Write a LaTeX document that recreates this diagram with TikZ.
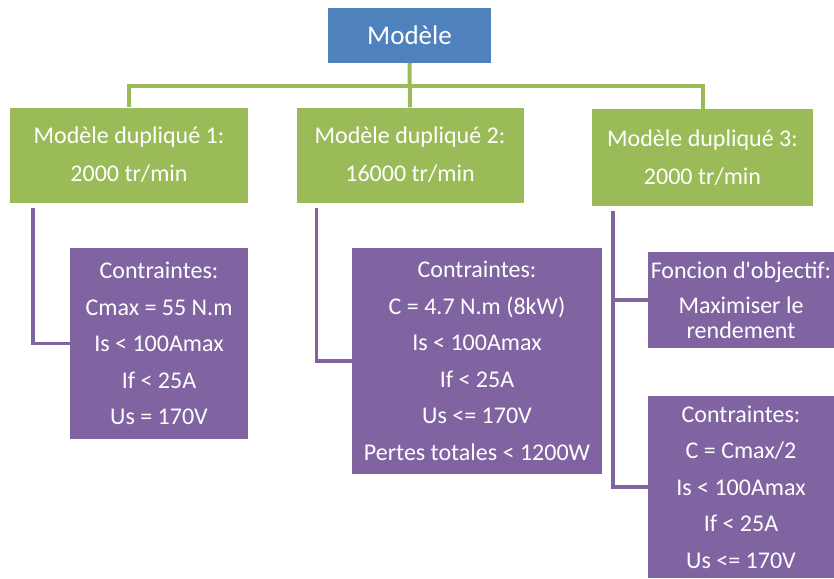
\documentclass[tikz,border=0pt]{standalone}
\usepackage{fontspec}
\setmainfont{Carlito}
\usetikzlibrary{calc}
\definecolor{modblue}{HTML}{4F81BD}
\definecolor{modgreen}{HTML}{9BBB59}
\definecolor{modpurple}{HTML}{8064A2}

\begin{document}
\begin{tikzpicture}[x=1pt,y=-1pt,
    box/.style={inner sep=0pt,text=white,align=center},
    bluebox/.style={box,fill=modblue,font=\fontsize{27}{32}\selectfont},
    greenbox/.style={box,fill=modgreen,minimum height=95pt,font=\fontsize{24}{38}\selectfont},
    purplebox/.style={box,fill=modpurple,font=\fontsize{24}{36.5}\selectfont},
    gline/.style={draw=modgreen,line width=4pt},
    pline/.style={draw=modpurple,line width=3.5pt,shorten <=5pt}]
  % Frame
  \useasboundingbox (0,0) rectangle (834,578);

  % Top box
  \node[bluebox,minimum width=163pt,minimum height=55pt] (mod) at (409.5,35.5) {Modèle};

  % Duplicated models
  \node[greenbox,minimum width=238pt] (g1) at (129,155) {Modèle dupliqué 1:\\2000 tr/min};
  \node[greenbox,minimum width=227pt] (g2) at (410,155) {Modèle dupliqué 2:\\16000 tr/min};
  \node[greenbox,minimum width=221pt,minimum height=97pt] (g3) at (702.5,157.5) {Modèle dupliqué 3:\\2000 tr/min};

  % Constraints & objective
  \node[purplebox,minimum width=178pt,minimum height=191pt] (p1) at (159,343.5)
    {Contraintes:\\Cmax = 55 N.m\\Is < 100Amax\\If < 25A\\Us = 170V};
  \node[purplebox,minimum width=250pt,minimum height=226pt] (p2) at (477,361)
    {Contraintes:\\C = 4.7 N.m (8kW)\\Is < 100Amax\\If < 25A\\Us <= 170V\\Pertes totales < 1200W};
  \node[purplebox,minimum width=186pt,minimum height=96pt,font=\fontsize{24}{25}\selectfont] (pa) at (741,300)
    {Foncion d\textquotesingle objectif:\\[10pt]Maximiser le\\rendement};
  \node[purplebox,minimum width=186pt,minimum height=182pt] (pb) at (741,487)
    {Contraintes:\\C = Cmax/2\\Is < 100Amax\\If < 25A\\Us <= 170V};

  % Green connectors
  \coordinate (bar) at (409.5,86);
  \draw[gline] (mod.south) -- (g2.north);
  \draw[gline] (g1.north) |- (bar) -| (g3.north);

  % Purple connectors
  \draw[pline] ([xshift=23pt]g1.south west) |- (p1.west);
  \draw[pline] ([xshift=20pt]g2.south west) |- (p2.west);
  \draw[pline] ([xshift=21pt]g3.south west) |- (pa.west);
  \draw[pline] ([xshift=21pt]g3.south west) |- (pb.west);
\end{tikzpicture}
\end{document}
